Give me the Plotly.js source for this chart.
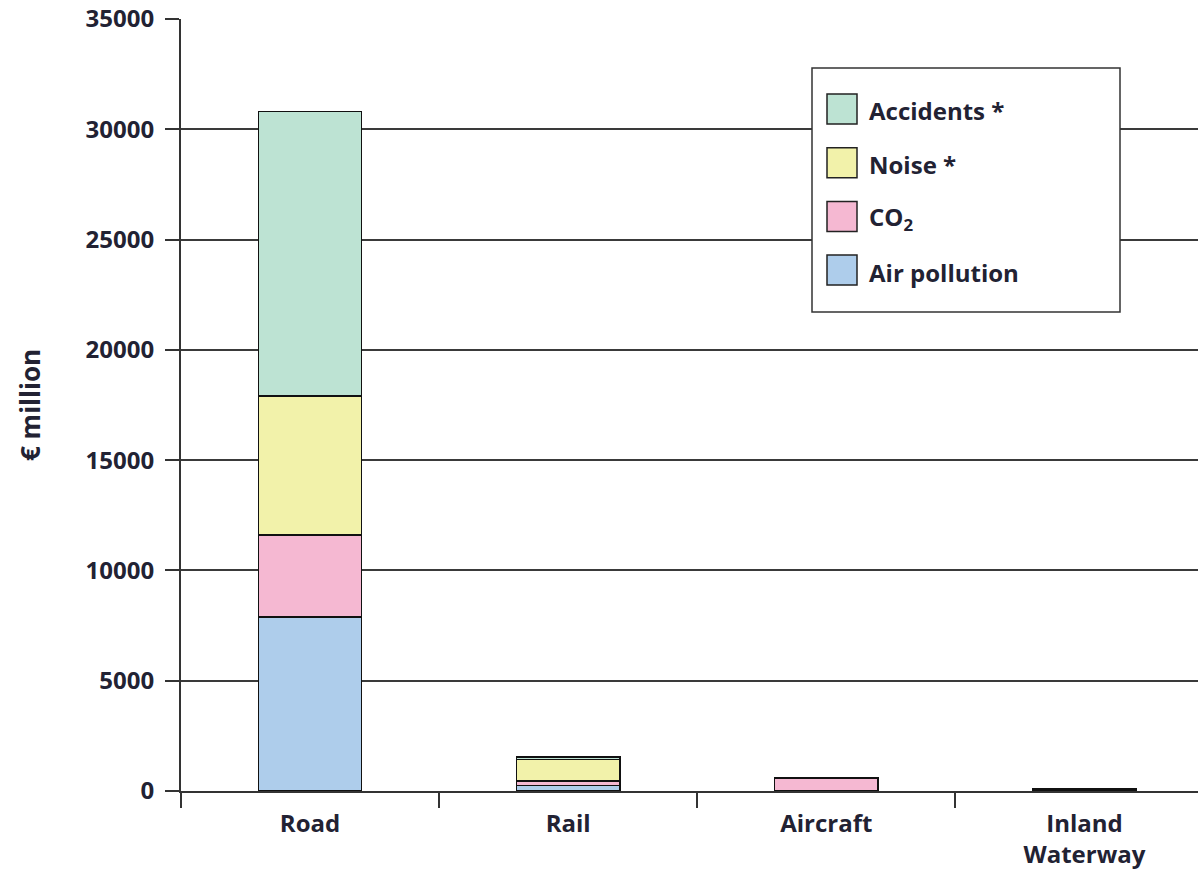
<!DOCTYPE html>
<html>
<head>
<meta charset="utf-8">
<script src="https://cdn.plot.ly/plotly-3.0.1.min.js"></script>
<style>
html,body{margin:0;padding:0;background:#fff;}
#chart{width:1198px;height:878px;}
</style>
</head>
<body>
<div id="chart"></div>
<script>
const categories = ["Road", "Rail", "Aircraft", "Inland<br>Waterway"];
const airPollution = [7900, 250, 30, 70];
const co2 = [3700, 200, 560, 50];
const noise = [6300, 980, 0, 0];
const accidents = [12900, 110, 0, 0];
const seriesNames = ["Air pollution", "CO<sub>2</sub>", "Noise *", "Accidents *"];
const yTicks = [0, 5000, 10000, 15000, 20000, 25000, 30000, 35000];

const colors = ["#aecdeb", "#f5b8d2", "#f2f2aa", "#bde3d3"];
const seriesValues = [airPollution, co2, noise, accidents];
const FONT = "Open Sans, DejaVu Sans, sans-serif";
const TXT = "#222233";

const traces = seriesValues.map((vals, i) => ({
  type: "bar",
  x: categories,
  y: vals,
  name: seriesNames[i],
  width: 0.4,
  marker: {color: colors[i], line: {color: "#111", width: 1.5}},
  showlegend: false,
  hoverinfo: "x+y+name"
}));

// plot area geometry (pixels)
const L = 181, R = 1198, T = 19, B = 791;
const W = R - L, H = B - T;
const px = x => (x - L) / W;
const py = y => (B - y) / H;

const shapes = [];
const annotations = [];
// legend box
shapes.push({type: "rect", xref: "paper", yref: "paper", layer: "above",
  x0: px(812), x1: px(1120), y0: py(312), y1: py(68),
  fillcolor: "#fff", line: {color: "#333", width: 1.5}});
// legend items, top to bottom: Accidents, Noise, CO2, Air pollution
for (let k = 0; k < 4; k++) {
  const i = 3 - k;
  const cy = 109 + k * 53.7;
  shapes.push({type: "rect", xref: "paper", yref: "paper", layer: "above",
    x0: px(827), x1: px(857), y0: py(cy + 15), y1: py(cy - 15),
    fillcolor: colors[i], line: {color: "#222", width: 1.5}});
  annotations.push({xref: "paper", yref: "paper", x: px(867), y: py(cy + 2),
    xanchor: "left", yanchor: "middle", showarrow: false, text: seriesNames[i],
    font: {family: FONT, size: 24, color: TXT, weight: 700}});
}
// y axis title
annotations.push({xref: "paper", yref: "paper", x: px(30), y: py(405),
  xanchor: "center", yanchor: "middle", showarrow: false, textangle: -90,
  text: "€ million", font: {family: FONT, size: 26, color: TXT, weight: 700}});

const layout = {
  width: 1198, height: 878,
  margin: {l: L, r: 1198 - R, t: T, b: 878 - B, pad: 0},
  paper_bgcolor: "#fff", plot_bgcolor: "#fff",
  barmode: "stack",
  showlegend: false,
  font: {family: FONT, size: 24, color: TXT, weight: 700},
  xaxis: {
    type: "category",
    range: [-0.5, 3.44],
    showgrid: false,
    showline: true, linecolor: "#333", linewidth: 2,
    ticks: "outside", tickson: "boundaries", ticklen: 15, tickwidth: 2, tickcolor: "#333",
    ticklabelstandoff: 10,
    tickfont: {family: FONT, size: 24, color: TXT, weight: 700},
    automargin: false, fixedrange: true
  },
  yaxis: {
    range: [0, 35000],
    tickvals: yTicks,
    ticktext: yTicks.map(String),
    showgrid: true, gridcolor: "#3a3a3a", gridwidth: 2,
    zeroline: false,
    showline: true, linecolor: "#333", linewidth: 2,
    ticks: "outside", ticklen: 14, tickwidth: 2, tickcolor: "#333",
    ticklabelstandoff: 6,
    tickfont: {family: FONT, size: 24, color: TXT, weight: 700},
    automargin: false, fixedrange: true
  },
  shapes: shapes,
  annotations: annotations
};

Plotly.newPlot("chart", traces, layout, {displayModeBar: false, staticPlot: true});
</script>
</body>
</html>
